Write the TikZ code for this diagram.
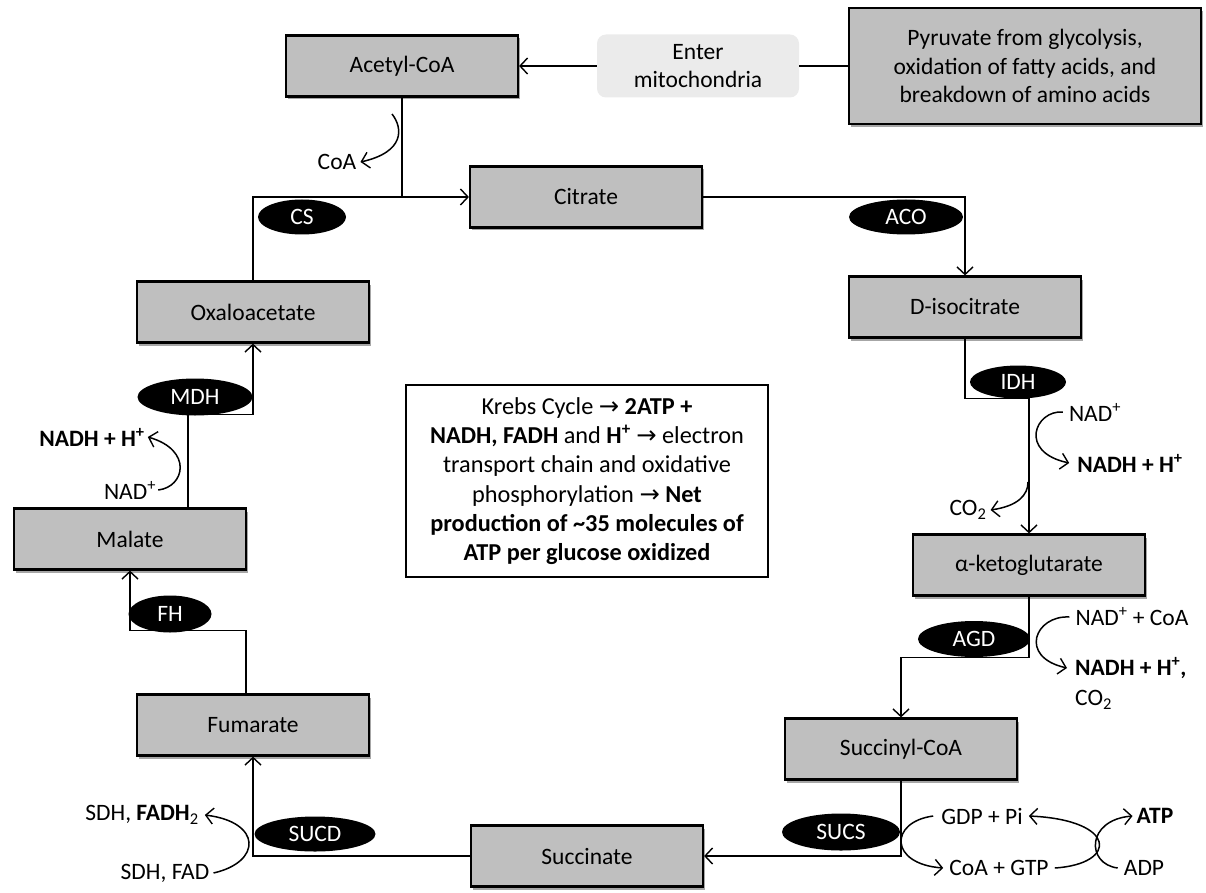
\documentclass[tikz,border=0pt]{standalone}
\usepackage{fontspec}
\setmainfont{Carlito}
\newfontfamily\symf{DejaVu Sans}
\usetikzlibrary{arrows.meta,shapes.geometric,shadows}
\definecolor{boxgray}{HTML}{BFBFBF}
\definecolor{entergray}{HTML}{EBEBEB}
\newcommand{\krarr}{{\symf →}}
\tikzset{
  box/.style={draw, line width=2.2pt, fill=boxgray, minimum width=232, minimum height=61, inner sep=0pt,
    drop shadow={shadow xshift=2pt, shadow yshift=-3pt, opacity=0.35, fill=black}},
  enz/.style={ellipse, fill=black, text=white, inner sep=0pt},
  lab/.style={inner sep=0pt},
  conn/.style={line width=1.5pt},
  arr/.style={conn, -{Straight Barb[length=7.5pt,width=16pt,line width=1.4pt]}},
}
\begin{document}
\begin{tikzpicture}[x=1pt,y=-1pt, font=\fontsize{23.5}{28.5}\selectfont]
\useasboundingbox (0,0) rectangle (1206,893);
% main boxes
\node[box] (acetyl) at (402,66) {Acetyl-CoA};
\node[rounded corners=9, fill=entergray, minimum width=202, minimum height=63, inner sep=0pt, align=center] (enter) at (698,66) {Enter\\mitochondria};
\node[box, minimum width=352, minimum height=116, align=center] (pyr) at (1025,66) {Pyruvate from glycolysis,\\oxidation of fatty acids, and\\breakdown of amino acids};
\node[box] (citrate) at (586,197) {Citrate};
\node[box] (diso) at (965,307) {D-isocitrate};
\node[box] (oxalo) at (253,312) {Oxaloacetate};
\node[box] (akg) at (1029,565) {α-ketoglutarate};
\node[box] (succoa) at (901,749) {Succinyl-CoA};
\node[box] (succ) at (587,856) {Succinate};
\node[box] (fum) at (253,725) {Fumarate};
\node[box] (malate) at (130,539) {Malate};
% center note
\node[draw, line width=2.2pt, fill=white, minimum width=362, minimum height=192, inner sep=0pt, align=center,
  font=\fontsize{24.3}{29.3}\selectfont] (note) at (587,481)
  {Krebs Cycle \krarr{} \textbf{2ATP +}\\
   \textbf{NADH, FADH} and \textbf{H\textsuperscript{+}} \krarr{} electron\\
   transport chain and oxidative\\
   phosphorylation \krarr{} \textbf{Net}\\
   \textbf{production of \textasciitilde35 molecules of}\\
   \textbf{ATP per glucose oxidized}};
% connectors
\draw[arr] (enter.west) -- (acetyl.east);
\draw[conn] (pyr.west) -- (enter.east);
\draw[conn] (acetyl.south) -- (acetyl.south |- citrate.west);
\draw[arr] (oxalo.north) |- (citrate.west);
\draw[arr] (citrate.east) -| (diso.north);
\draw[arr] (diso.south) -- ++(0,60) -| (akg.north);
\draw[arr] (akg.south) -- ++(0,61) -| (succoa.north);
\draw[arr] (succoa.south) |- (succ.east);
\draw[arr] (succ.west) -| (fum.south);
\draw[arr] ([xshift=-7pt]fum.north) -- ++(0,-63) -| (malate.south);
\draw[arr] ([xshift=58pt]malate.north) -- ++(0,-93) -| (oxalo.south);
% enzymes
\node[enz, minimum width=88, minimum height=35] (cs) at (302,217) {CS};
\node[enz, minimum width=114, minimum height=35] (aco) at (906,217) {ACO};
\node[enz, minimum width=96, minimum height=33] (idh) at (1018,382) {IDH};
\node[enz, minimum width=112, minimum height=36] (agd) at (974,639) {AGD};
\node[enz, minimum width=118, minimum height=37] (sucs) at (841,832) {SUCS};
\node[enz, minimum width=121, minimum height=35] (sucd) at (315,834) {SUCD};
\node[enz, minimum width=83, minimum height=37] (fh) at (170,614) {FH};
\node[enz, minimum width=115, minimum height=37] (mdh) at (195,397) {MDH};
% side labels
\node[lab] (coa) at (337,162) {CoA};
\node[lab] (mnadh) at (92,437) {\textbf{NADH + H\textsuperscript{+}}};
\node[lab] (mnad) at (130,490) {NAD\textsuperscript{+}};
\node[lab] (inad) at (1095,412) {NAD\textsuperscript{+}};
\node[lab] (inadh) at (1130,463) {\textbf{NADH + H\textsuperscript{+}}};
\node[lab] (ico2) at (968,510) {CO\textsubscript{2}};
\node[lab] (anad) at (1132,617) {NAD\textsuperscript{+} + CoA};
\node[lab, anchor=west] (anadh) at (1075,668) {\textbf{NADH + H\textsuperscript{+},}};
\node[lab, anchor=west] (aco2) at (1075,700) {CO\textsubscript{2}};
\node[lab] (sfadh) at (142,815) {SDH, \textbf{FADH}\textsubscript{2}};
\node[lab] (sfad) at (165,873) {SDH, FAD};
\node[lab] (gdp) at (982,816) {GDP + Pi};
\node[lab] (gtp) at (999,868) {CoA + GTP};
\node[lab] (atp) at (1155,816) {\textbf{ATP}};
\node[lab] (adp) at (1144,868) {ADP};
% side curves
\coordinate (c1s) at (392,114); \coordinate (c1e) at (coa.east);
\draw[arr] (c1s) .. controls (403,128) and (405,152) .. ([xshift=4pt]c1e);
\draw[arr] ([xshift=2pt]mnad.east) .. controls (185,487) and (193,450) .. ([xshift=3pt]mnadh.east);
\draw[arr] ([xshift=-6pt]inad.west) .. controls (1035,410) and (1018,452) .. ([xshift=-8pt]inadh.west);
\draw[arr] (1028,482) .. controls (1028,495) and (1018,506) .. ([xshift=4pt]ico2.east);
\draw[arr] ([xshift=-6pt]anad.west) .. controls (1035,615) and (1018,657) .. ([xshift=-8pt]anadh.west);
\draw[arr] ([xshift=4pt]sfad.east) .. controls (262,862) and (262,822) .. ([xshift=6pt]sfadh.east);
\draw[arr] ([xshift=-8pt]gdp.west) .. controls (889,822) and (889,864) .. ([xshift=-6pt]gtp.west);
\draw[arr] ([xshift=6pt]gtp.east) .. controls (1118,864) and (1118,820) .. ([xshift=6pt]gdp.east);
\draw[arr] ([xshift=-6pt]adp.west) .. controls (1086,864) and (1086,820) .. ([xshift=-4pt]atp.west);
\end{tikzpicture}
\end{document}
